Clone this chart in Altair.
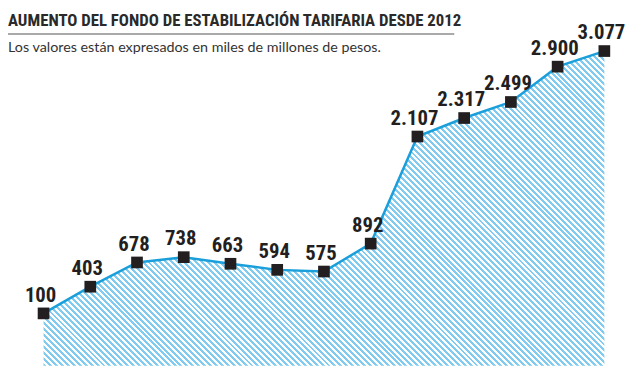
import altair as alt
import pandas as pd

years = [2012, 2013, 2014, 2015, 2016, 2017, 2018, 2019, 2020, 2021, 2022, 2023, 2024]
values = [100, 403, 678, 738, 663, 594, 575, 892, 2107, 2317, 2499, 2900, 3077]
labels = [f"{v:,}".replace(",", ".") for v in values]

title_text = "AUMENTO DEL FONDO DE ESTABILIZACIÓN TARIFARIA DESDE 2012"
subtitle_text = "Los valores están expresados en miles de millones de pesos."

df = pd.DataFrame({"year": years, "value": values, "label": labels})

W, H = 632, 354
x_dom = [2011.23944, 2024.5915]
y_dom = [-493.8, 3472.5]

def px_x(v):
    return (v - x_dom[0]) / (x_dom[1] - x_dom[0]) * W
def px_y(v):
    return H - (v - y_dom[0]) / (y_dom[1] - y_dom[0]) * H

# diagonal hatch fill built as a hard-stop gradient over the area's bounding box
bw = px_x(years[-1]) - px_x(years[0])
bh = H - px_y(max(values))
k = (bw + bh) / (bw ** 2 + bh ** 2)
D = (bw + bh) / 2 ** 0.5
period = 4.24
blue = "#80cbef"
white = "#ffffff"
stops = []
n = int(D / period) + 2
for i in range(n):
    o0 = min(1.0, i * period / D)
    o1 = min(1.0, (i + 0.5) * period / D)
    o2 = min(1.0, (i + 1) * period / D)
    stops += [
        alt.GradientStop(offset=round(o0, 6), color=blue),
        alt.GradientStop(offset=round(o1, 6), color=blue),
        alt.GradientStop(offset=round(o1, 6), color=white),
        alt.GradientStop(offset=round(o2, 6), color=white),
    ]
hatch = alt.LinearGradient(gradient="linear", stops=stops, x1=0, y1=1, x2=k * bw, y2=1 - k * bh)

x = alt.X("year:Q", scale=alt.Scale(domain=x_dom, nice=False, zero=False), axis=None)
y = alt.Y("value:Q", scale=alt.Scale(domain=y_dom, nice=False, zero=False), axis=None)

base = alt.Chart(df).encode(x=x, y=y)

COND = "Roboto Condensed, Open Sans Condensed, sans-serif"

area = base.mark_area(color=hatch, opacity=1).encode(y2=alt.Y2(datum=y_dom[0]))
line = base.mark_line(color="#1a9fdb", strokeWidth=2.5)
pts = base.mark_square(size=140, color="#231f20", opacity=1, filled=True)
txt = base.mark_text(
    font=COND, fontWeight="bold", fontSize=21, color="#231f20",
    align="center", baseline="alphabetic", dy=-12, dx=-3,
).encode(text="label:N")

title = alt.Chart(pd.DataFrame({"t": [title_text]})).mark_text(
    font=COND, fontWeight="bold", fontSize=17, color="#2a2a2a",
    align="left", baseline="alphabetic",
).encode(x=alt.value(0), y=alt.value(10), text="t:N")

underline = alt.Chart(pd.DataFrame({"t": [0]})).mark_rule(
    color="#8c8c8c", strokeWidth=1.5
).encode(x=alt.value(0), x2=alt.value(452), y=alt.value(18))

subtitle = alt.Chart(pd.DataFrame({"t": [subtitle_text]})).mark_text(
    font="Lato", fontSize=14.5, color="#333333",
    align="left", baseline="alphabetic",
).encode(x=alt.value(0), y=alt.value(36), text="t:N")

chart = alt.layer(area, line, pts, txt, title, underline, subtitle).properties(
    width=W, height=H,
    padding={"left": 0, "top": 6, "right": 0, "bottom": 0},
    autosize=alt.AutoSizeParams(type="none"),
).configure_view(stroke=None)

chart.save("out.html", embed_options={"renderer": "svg", "actions": False})
